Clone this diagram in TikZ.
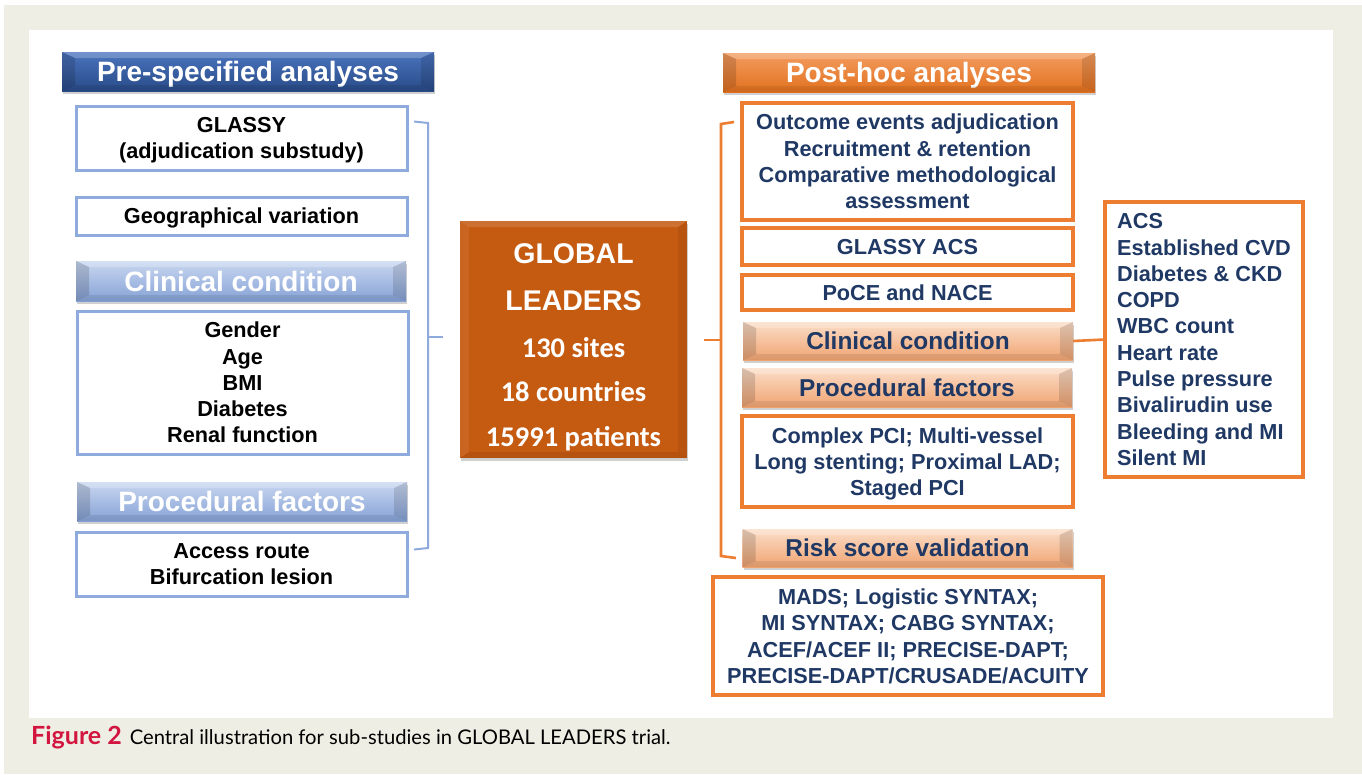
\documentclass[tikz,border=0pt]{standalone}
\usepackage{fontspec}
\setmainfont{Liberation Sans}
\newfontfamily\carl{Carlito}
\newfontfamily\capfont{Lato}
\usetikzlibrary{shadows,calc}
\definecolor{bgbeige}{HTML}{EFEEE4}
\definecolor{dblue}{HTML}{2F5597}
\definecolor{dbluetop}{HTML}{4A74BE}
\definecolor{dbluebot}{HTML}{294B88}
\definecolor{lblue}{HTML}{8FAADC}
\definecolor{lbluetop}{HTML}{C9D7F0}
\definecolor{lbluebot}{HTML}{86A2D6}
\definecolor{oran}{HTML}{ED7D31}
\definecolor{orantop}{HTML}{F39C5F}
\definecolor{oranbot}{HTML}{E2711F}
\definecolor{lora}{HTML}{F4B183}
\definecolor{loratop}{HTML}{FBDDC8}
\definecolor{lorabot}{HTML}{F0A472}
\definecolor{burnt}{HTML}{C55A11}
\definecolor{navy}{HTML}{1F3864}
\definecolor{crimson}{HTML}{D2163F}
\newcommand\myBody{\bfseries\fontsize{21.7}{26.3}\selectfont}
\newcommand\myHdr{\bfseries\fontsize{28}{32}\selectfont}
\newcommand\mySub{\bfseries\fontsize{24.4}{28}\selectfont}
\newcommand\myBevel[1]{%
  \fill[white,opacity=.22] (#1.north west) -- (#1.north east) -- ($(#1.north east)+(-13,6)$) -- ($(#1.north west)+(13,6)$) -- cycle;
  \fill[black,opacity=.14] (#1.north west) -- ($(#1.north west)+(13,6)$) -- ($(#1.south west)+(13,-6)$) -- (#1.south west) -- cycle;
  \fill[black,opacity=.12] (#1.north east) -- ($(#1.north east)+(-13,6)$) -- ($(#1.south east)+(-13,-6)$) -- (#1.south east) -- cycle;
  \fill[black,opacity=.08] (#1.south west) -- ($(#1.south west)+(13,-6)$) -- ($(#1.south east)+(-13,-6)$) -- (#1.south east) -- cycle;
}
\tikzset{
  basebox/.style={inner sep=0pt, outer sep=0pt, align=center, font=\myBody, text depth=0pt},
  bluebox/.style={basebox, draw=lblue, line width=3pt, fill=white, minimum width=331pt, text=black},
  orabox/.style={basebox, draw=oran, line width=3.2pt, fill=white, minimum width=331pt, text=navy},
  hshadow/.style={drop shadow={shadow xshift=1pt, shadow yshift=-3pt, opacity=.3, fill=black!60}},
  hdrbase/.style={inner sep=0pt, outer sep=0pt, minimum height=39pt, text height=20pt, text depth=0pt, hshadow},
  bluehdr/.style={hdrbase, minimum width=372pt, text=white, font=\myHdr, top color=dbluetop, middle color=dblue, bottom color=dbluebot},
  lbluehdr/.style={hdrbase, minimum width=330pt, text=white, font=\myHdr, top color=lbluetop, middle color=lblue, bottom color=lbluebot},
  orahdr/.style={hdrbase, minimum width=372pt, text=white, font=\myHdr, top color=orantop, middle color=oran, bottom color=oranbot},
  lorahdr/.style={hdrbase, minimum width=330pt, minimum height=38pt, text height=17.5pt, text=navy, font=\mySub, top color=loratop, middle color=lora, bottom color=lorabot},
  bluecon/.style={draw=lblue, line width=2pt},
  oracon/.style={draw=oran, line width=2.6pt},
  gltext/.style={anchor=base, text=white, inner sep=0pt},
}
\begin{document}
\begin{tikzpicture}[x=1pt,y=-1pt]
\useasboundingbox (0,0) rectangle (1362,774);
\fill[white] (0,0) rectangle (1362,774);
\fill[bgbeige] (4,5) rectangle (1362,774);
\fill[white] (29,30) rectangle (1333,718);

% ---------- left column ----------
\node[bluehdr] (pre) at (248,71.5) {Pre-specified analyses};
\myBevel{pre}
\node[bluebox, minimum height=64pt] (glassy) at (241.5,138) {GLASSY\\(adjudication substudy)};
\node[bluebox, minimum height=38pt] (geo) at (241.5,216) {Geographical variation};
\node[lbluehdr, minimum height=40pt] (clinL) at (241,281) {Clinical condition};
\myBevel{clinL}
\node[bluebox, minimum height=143pt] (gender) at (242.5,382.5) {Gender\\Age\\BMI\\Diabetes\\Renal function};
\node[lbluehdr] (procL) at (242,501.5) {Procedural factors};
\myBevel{procL}
\node[bluebox, minimum height=64pt] (access) at (241.5,564) {Access route\\Bifurcation lesion};

% left bracket
\coordinate (lbt) at (414,121.5);
\coordinate (lbb) at (414,549.5);
\coordinate (lbtip) at (443,337);
\draw[bluecon] (lbt) -- (428,123) -- (428,548) -- (lbb);
\draw[bluecon] (428,337) -- (lbtip);

% ---------- centre ----------
\node[inner sep=0pt, outer sep=0pt, minimum width=227pt, minimum height=237pt, fill=burnt,
      drop shadow={shadow xshift=1pt, shadow yshift=-3pt, opacity=.3, fill=black!60}] (gl) at (573.5,339.5) {};
\fill[white,opacity=.14] (gl.north west) -- (gl.north east) -- ($(gl.north east)+(-9,6)$) -- ($(gl.north west)+(9,6)$) -- cycle;
\fill[white,opacity=.07] (gl.north west) -- ($(gl.north west)+(9,6)$) -- ($(gl.south west)+(9,-6)$) -- (gl.south west) -- cycle;
\fill[black,opacity=.06] (gl.north east) -- ($(gl.north east)+(-9,6)$) -- ($(gl.south east)+(-9,-6)$) -- (gl.south east) -- cycle;
\fill[black,opacity=.08] (gl.south west) -- ($(gl.south west)+(9,-6)$) -- ($(gl.south east)+(-9,-6)$) -- (gl.south east) -- cycle;
\node[gltext, font=\bfseries\fontsize{28.5}{30}\selectfont] (gl1) at (573.5,263) {GLOBAL};
\node[gltext, font=\bfseries\fontsize{28.5}{30}\selectfont] (gl2) at (573.5,310.5) {LEADERS};
\node[gltext, font=\carl\bfseries\fontsize{28.5}{30}\selectfont] (gl3) at (573.5,357.5) {130 sites};
\node[gltext, font=\carl\bfseries\fontsize{28.5}{30}\selectfont] (gl4) at (573.5,401.5) {18 countries};
\node[gltext, font=\carl\bfseries\fontsize{28.5}{30}\selectfont] (gl5) at (573.5,446.5) {15991 patients};

% ---------- right column ----------
\node[orahdr] (post) at (909,72.5) {Post-hoc analyses};
\myBevel{post}
\node[orabox, minimum height=117pt] (outcome) at (907.5,161.5) {Outcome events adjudication\\Recruitment \& retention\\Comparative methodological\\assessment};
\node[orabox, minimum height=37pt] (gacs) at (907.5,246.5) {GLASSY ACS};
\node[orabox, minimum height=35pt] (poce) at (907.5,292.5) {PoCE and NACE};
\node[lorahdr] (clinR) at (908,341) {Clinical condition};
\myBevel{clinR}
\node[lorahdr, minimum height=39pt] (procR) at (907,387.5) {Procedural factors};
\myBevel{procR}
\node[orabox, minimum height=91pt] (complex) at (907.5,461.5) {Complex PCI; Multi-vessel\\Long stenting; Proximal LAD;\\Staged PCI};
\node[lorahdr] (risk) at (907.5,548) {Risk score validation};
\myBevel{risk}
\node[orabox, minimum width=390pt, minimum height=118pt] (mads) at (908,636) {MADS; Logistic SYNTAX;\\MI SYNTAX; CABG SYNTAX;\\ACEF/ACEF II; PRECISE-DAPT;\\PRECISE-DAPT/CRUSADE/ACUITY};
\node[orabox, align=left, minimum width=198pt, minimum height=275pt] (acs) at (1204,339.5) {ACS\\Established CVD\\Diabetes \& CKD\\COPD\\WBC count\\Heart rate\\Pulse pressure\\Bivalirudin use\\Bleeding and MI\\Silent MI};

% right bracket
\coordinate (rbt) at (734,122);
\coordinate (rbb) at (736,558);
\coordinate (rbtip) at (704,340);
\draw[oracon] (rbt) -- (721,124) -- (721,556) -- (rbb);
\draw[oracon] (721,340) -- (rbtip);
\draw[oracon] (clinR.east) -- (acs.west);

% ---------- caption ----------
\node[anchor=base west, inner sep=0pt, font=\capfont\fontsize{20.2}{24}\selectfont] (cap) at (31,744.5)
  {\textcolor{crimson}{\fontsize{25}{28}\selectfont\bfseries Figure 2}\hspace{8pt}Central illustration for sub-studies in GLOBAL LEADERS trial.};
\end{tikzpicture}
\end{document}
